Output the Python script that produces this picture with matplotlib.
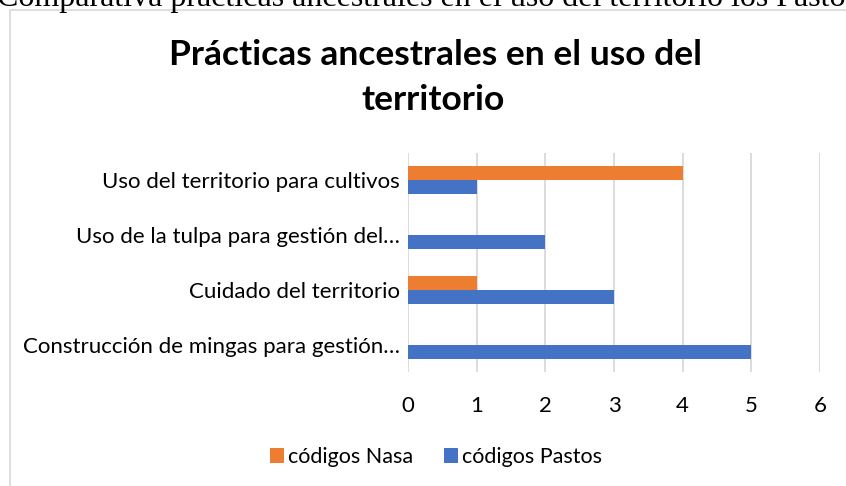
import matplotlib.pyplot as plt
import numpy as np
from matplotlib.patches import Rectangle

# categorias de abajo hacia arriba (orden de Excel)
categorias = [
    "Construcción de mingas para gestión…",
    "Cuidado del territorio",
    "Uso de la tulpa para gestión del…",
    "Uso del territorio para cultivos",
]
pastos = [5, 3, 2, 1]
nasa = [0, 1, 0, 4]
ticks_x = [0, 1, 2, 3, 4, 5, 6]

AZUL = "#4472C4"
NARANJA = "#ED7D31"
GRIS = "#d9d9d9"
FONT = "Lato"

W, H = 846, 486
fig = plt.figure(figsize=(W / 100, H / 100), dpi=100)

# marco del grafico
fig.add_artist(Rectangle((10 / W, -0.1), 1.0, 1 - 10 / H + 0.1, transform=fig.transFigure,
                         fill=False, ec=GRIS, lw=1.2))

# texto del documento, cortado arriba
fig.text(-3 / W, 1 - 6 / H, "Comparativa prácticas ancestrales en el uso del territorio los Pastos",
         family="Liberation Serif", fontsize=23, va="baseline", ha="left")

# titulo (dos lineas)
fig.text(435 / W, 1 - 65 / H, "Prácticas ancestrales en el uso del", family=FONT,
         fontweight="bold", fontsize=25.5, ha="center", va="baseline", color="#000000")
fig.text(433 / W, 1 - 110 / H, "territorio", family=FONT,
         fontweight="bold", fontsize=25.5, ha="center", va="baseline", color="#000000")

ax = fig.add_axes([408 / W, 1 - 372 / H, 412 / W, 219 / H])
y = np.arange(len(categorias))
h = 0.256
b1 = ax.barh(y - h / 2, pastos, h, color=AZUL, label="códigos Pastos")
b2 = ax.barh(y + h / 2, nasa, h, color=NARANJA, label="códigos Nasa")

ax.set_xlim(0, 6)
ax.set_ylim(-0.5, 3.5)
ax.set_xticks(ticks_x)
ax.set_yticks(y, categorias)
ax.grid(axis="x", color=GRIS, lw=1.3)
ax.set_axisbelow(True)
for s in ax.spines.values():
    s.set_visible(False)
ax.tick_params(axis="y", length=0, pad=6, labelsize=16)
ax.tick_params(axis="x", length=0, pad=17, labelsize=16)
for lab in ax.get_xticklabels() + ax.get_yticklabels():
    lab.set_family(FONT)
    lab.set_color("#000000")

fig.legend(handles=[b2, b1], loc="center", bbox_to_anchor=(436 / W, 1 - 457 / H), ncol=2,
           frameon=False, handlelength=0.65, handleheight=0.65, handletextpad=0.2,
           columnspacing=1.4, prop={"family": FONT, "size": 15.5})

fig.savefig("out.png", dpi=100)
